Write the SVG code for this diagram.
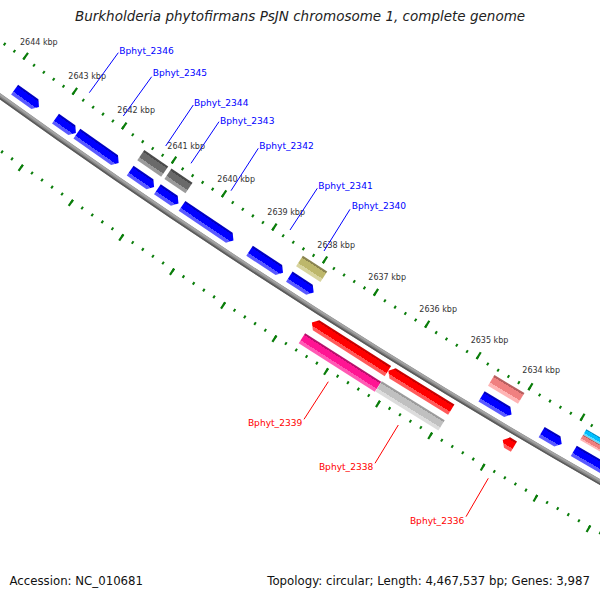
<svg xmlns="http://www.w3.org/2000/svg" width="600" height="600" viewBox="0 0 600 600">
<style>
text{font-family:"DejaVu Sans","Liberation Sans",sans-serif}
.title{font-size:13.5px;font-style:italic;fill:#222}
.foot{font-size:11.75px;fill:#111}
.kbp{font-size:8px;fill:#333}
.lb{font-size:9.1px;fill:#0000ff}
.lr{font-size:9.1px;fill:#ff0000}
.cb{stroke:#0000ff;stroke-width:1;fill:none}
.cr{stroke:#ff0000;stroke-width:1;fill:none}
.tk{fill:none;stroke:#0a7d0a}
.bb{fill:none}
</style>
<defs>
<linearGradient id="gBlue" x1="0" y1="0" x2="0" y2="1"><stop offset="0" stop-color="#0000c0"/><stop offset="0.17" stop-color="#0000c0"/><stop offset="0.17" stop-color="#0000ff"/><stop offset="0.7" stop-color="#0000ff"/><stop offset="0.7" stop-color="#5a5aff"/><stop offset="1" stop-color="#5a5aff"/></linearGradient>
<linearGradient id="gRed" x1="0" y1="0" x2="0" y2="1"><stop offset="0" stop-color="#c80000"/><stop offset="0.17" stop-color="#c80000"/><stop offset="0.17" stop-color="#ff0000"/><stop offset="0.7" stop-color="#ff0000"/><stop offset="0.7" stop-color="#ff5a5a"/><stop offset="1" stop-color="#ff5a5a"/></linearGradient>
<linearGradient id="gDGray" x1="0" y1="0" x2="0" y2="1"><stop offset="0" stop-color="#4a4a4a"/><stop offset="0.17" stop-color="#4a4a4a"/><stop offset="0.17" stop-color="#6a6a6a"/><stop offset="0.7" stop-color="#6a6a6a"/><stop offset="0.7" stop-color="#9a9a9a"/><stop offset="1" stop-color="#9a9a9a"/></linearGradient>
<linearGradient id="gLGray" x1="0" y1="0" x2="0" y2="1"><stop offset="0" stop-color="#9c9c9c"/><stop offset="0.17" stop-color="#9c9c9c"/><stop offset="0.17" stop-color="#c0c0c0"/><stop offset="0.7" stop-color="#c0c0c0"/><stop offset="0.7" stop-color="#dcdcdc"/><stop offset="1" stop-color="#dcdcdc"/></linearGradient>
<linearGradient id="gMag" x1="0" y1="0" x2="0" y2="1"><stop offset="0" stop-color="#b8106c"/><stop offset="0.17" stop-color="#b8106c"/><stop offset="0.17" stop-color="#ff1493"/><stop offset="0.7" stop-color="#ff1493"/><stop offset="0.7" stop-color="#ff5ab4"/><stop offset="1" stop-color="#ff5ab4"/></linearGradient>
<linearGradient id="gOlive" x1="0" y1="0" x2="0" y2="1"><stop offset="0" stop-color="#8a8450"/><stop offset="0.17" stop-color="#8a8450"/><stop offset="0.17" stop-color="#bdb76b"/><stop offset="0.7" stop-color="#bdb76b"/><stop offset="0.7" stop-color="#d8d49e"/><stop offset="1" stop-color="#d8d49e"/></linearGradient>
<linearGradient id="gCoral" x1="0" y1="0" x2="0" y2="1"><stop offset="0" stop-color="#b86060"/><stop offset="0.17" stop-color="#b86060"/><stop offset="0.17" stop-color="#f08080"/><stop offset="0.7" stop-color="#f08080"/><stop offset="0.7" stop-color="#ffb4b4"/><stop offset="1" stop-color="#ffb4b4"/></linearGradient>
<linearGradient id="gCyan" x1="0" y1="0" x2="0" y2="1"><stop offset="0" stop-color="#0090c8"/><stop offset="0.17" stop-color="#0090c8"/><stop offset="0.17" stop-color="#00bfff"/><stop offset="0.7" stop-color="#00bfff"/><stop offset="0.7" stop-color="#60dcff"/><stop offset="1" stop-color="#60dcff"/></linearGradient>
</defs>
<rect width="600" height="600" fill="#fff"/>
<text class="title" x="300" y="21" text-anchor="middle">Burkholderia phytofirmans PsJN chromosome 1, complete genome</text>

<g id="map" transform="translate(4012 -5483) rotate(35.741)">
  <g id="rulers">
    <path class="tk" stroke-width="3" stroke-dasharray="2 10.075" stroke-dashoffset="1" d="M-120.74 6825.93A6827 6827 0 0 0 783.15 6781.93"/>
    <path class="tk" stroke-width="8" stroke-dasharray="2.2 58.153" stroke-dashoffset="1.1" d="M-120.70 6823.44A6824.5 6824.5 0 0 0 782.86 6779.44"/>
    <path class="tk" stroke-width="3" stroke-dasharray="2 10.232" stroke-dashoffset="1" d="M-122.32 6914.92A6916 6916 0 0 0 793.36 6870.34"/>
    <path class="tk" stroke-width="7.5" stroke-dasharray="2.2 58.982" stroke-dashoffset="1.1" d="M-122.35 6917.17A6918.25 6918.25 0 0 0 793.61 6872.58"/>
  </g>
  <g id="backbone">
    <path class="bb" stroke="#858585" stroke-width="5.2" d="M-121.54 6870.93A6872 6872 0 0 0 788.31 6826.63"/>
    <path class="bb" stroke="#a4a4a4" stroke-width="2" d="M-121.51 6869.43A6870.5 6870.5 0 0 0 788.13 6825.14"/>
    <path class="bb" stroke="#5a5a5a" stroke-width="1.6" d="M-121.57 6872.68A6873.75 6873.75 0 0 0 788.51 6828.37"/>
  </g>
  <g id="F1" transform="rotate(-0.0875) translate(0 6872)"><path fill="url(#gBlue)" d="M0 -20H25L30 -14L25 -8H0Z"/></g>
  <g id="F2" transform="rotate(-0.5069) translate(0 6872)"><path fill="url(#gBlue)" d="M0 -20H20L25 -14L20 -8H0Z"/></g>
  <g id="F3" transform="rotate(-0.7254) translate(0 6872)"><path fill="url(#gBlue)" d="M0 -20H46L51 -14L46 -8H0Z"/></g>
  <g id="F4" transform="rotate(-1.2673) translate(0 6872)"><path fill="url(#gBlue)" d="M0 -20H24L29 -14L24 -8H0Z"/></g>
  <g id="F5" transform="rotate(-1.5425) translate(0 6872)"><path fill="url(#gBlue)" d="M0 -20H20.5L25.5 -14L20.5 -8H0Z"/></g>
  <g id="F6" transform="rotate(-1.7909) translate(0 6872)"><path fill="url(#gBlue)" d="M0 -20H57L62 -14L57 -8H0Z"/></g>
  <g id="F7" transform="rotate(-2.4688) translate(0 6872)"><path fill="url(#gBlue)" d="M0 -20H35L40 -14L35 -8H0Z"/></g>
  <g id="F8" transform="rotate(-2.8648) translate(0 6872)"><path fill="url(#gBlue)" d="M0 -20H24L29 -14L24 -8H0Z"/></g>
  <g id="F9" transform="rotate(-4.7574) translate(0 6872)"><path fill="url(#gBlue)" d="M0 -20H30L35 -14L30 -8H0Z"/></g>
  <g id="F10" transform="rotate(-5.3411) translate(0 6872)"><path fill="url(#gBlue)" d="M0 -20H18.3L23.3 -14L18.3 -8H0Z"/></g>
  <g id="F11" transform="rotate(-5.6521) translate(0 6872)"><path fill="url(#gBlue)" d="M0 -20H75L80 -14L75 -8H0Z"/></g>
  <g id="G1" transform="rotate(-1.2673) translate(0 6872)"><rect x="0" y="-39" width="29" height="12.5" fill="url(#gDGray)"/></g>
  <g id="G2" transform="rotate(-1.5425) translate(0 6872)"><rect x="0" y="-39" width="25.5" height="12.5" fill="url(#gDGray)"/></g>
  <g id="G3" transform="rotate(-2.8648) translate(0 6872)"><rect x="0" y="-39" width="29" height="12.5" fill="url(#gOlive)"/></g>
  <g id="G4" transform="rotate(-4.7574) translate(0 6872)"><rect x="0" y="-39" width="35" height="12.5" fill="url(#gCoral)"/></g>
  <g id="G5" transform="rotate(-5.6521) translate(0 6872)"><rect x="0" y="-39" width="80" height="6.25" fill="url(#gCyan)"/><rect x="0" y="-32.75" width="80" height="6.25" fill="url(#gCoral)"/></g>
  <g id="R1" transform="rotate(-3.2300) translate(0 6872)"><path fill="url(#gRed)" d="M0 12.5L5 6.5H90.2V18.5H5Z"/></g>
  <g id="R2" transform="rotate(-3.9820) translate(0 6872)"><path fill="url(#gRed)" d="M0 12.5L5 6.5H74V18.5H5Z"/></g>
  <g id="R3" transform="rotate(-5.0951) translate(0 6872)"><path fill="url(#gRed)" d="M0 12.5L5 6.5H13V18.5H5Z"/></g>
  <g id="M1" transform="rotate(-3.2300) translate(0 6872)"><rect x="0" y="25" width="90.2" height="12" fill="url(#gMag)"/></g>
  <g id="M2" transform="rotate(-3.9820) translate(0 6872)"><rect x="0" y="25" width="74" height="12" fill="url(#gLGray)"/></g>
</g>

<g id="kbp-labels">
  <text class="kbp" x="20" y="44.8">2644 kbp</text>
  <text class="kbp" x="68.3" y="78.8">2643 kbp</text>
  <text class="kbp" x="117.3" y="112.8">2642 kbp</text>
  <text class="kbp" x="167.3" y="148.5">2641 kbp</text>
  <text class="kbp" x="217.3" y="181.5">2640 kbp</text>
  <text class="kbp" x="267.3" y="214.5">2639 kbp</text>
  <text class="kbp" x="317.3" y="247.5">2638 kbp</text>
  <text class="kbp" x="368.3" y="279.6">2637 kbp</text>
  <text class="kbp" x="419.3" y="311.8">2636 kbp</text>
  <text class="kbp" x="470.7" y="342.6">2635 kbp</text>
  <text class="kbp" x="522.3" y="372.6">2634 kbp</text>
</g>

<g id="connectors">
  <path class="cb" d="M89.3 92.7L118.3 52.7"/>
  <path class="cb" d="M123.3 116L151.7 76.7"/>
  <path class="cb" d="M165.7 146L193.3 105"/>
  <path class="cb" d="M191 163.3L219 121.7"/>
  <path class="cb" d="M231 190.7L258.3 148.3"/>
  <path class="cb" d="M290 230L317.3 188.3"/>
  <path class="cb" d="M324 251L350 209.3"/>
  <path class="cr" d="M328.3 381.7L304 419.3"/>
  <path class="cr" d="M398.3 425L375 463.3"/>
  <path class="cr" d="M488.3 478.3L466 516.7"/>
</g>

<g id="feature-labels">
  <text class="lb" x="119.3" y="54">Bphyt_2346</text>
  <text class="lb" x="152.7" y="76.3">Bphyt_2345</text>
  <text class="lb" x="194" y="106">Bphyt_2344</text>
  <text class="lb" x="220" y="123.5">Bphyt_2343</text>
  <text class="lb" x="259.3" y="149.2">Bphyt_2342</text>
  <text class="lb" x="318.3" y="188.5">Bphyt_2341</text>
  <text class="lb" x="351.7" y="209">Bphyt_2340</text>
  <text class="lr" x="302.3" y="425.5" text-anchor="end">Bphyt_2339</text>
  <text class="lr" x="373.3" y="469.5" text-anchor="end">Bphyt_2338</text>
  <text class="lr" x="464.3" y="523.5" text-anchor="end">Bphyt_2336</text>
</g>

<text class="foot" x="9.5" y="585">Accession: NC_010681</text>
<text class="foot" x="590" y="585" text-anchor="end">Topology: circular; Length: 4,467,537 bp; Genes: 3,987</text>
</svg>
